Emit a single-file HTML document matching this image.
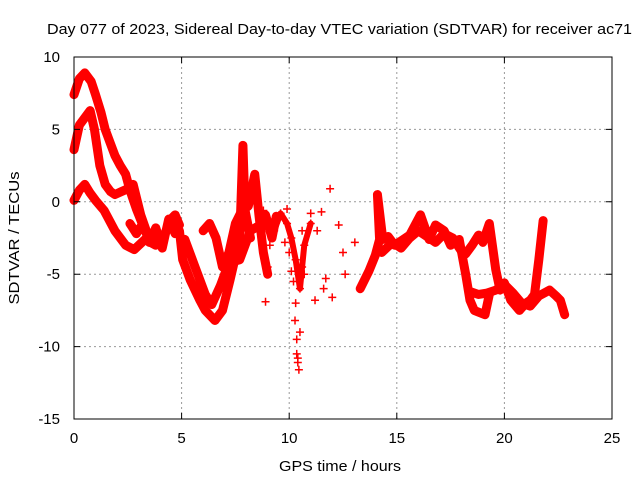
<!DOCTYPE html>
<html><head><meta charset="utf-8"><style>
body{margin:0;background:#fff;}
svg{display:block;font-family:"Liberation Sans",sans-serif;}
</style></head><body>
<svg id="chart" width="640" height="480">
<rect width="640" height="480" fill="#fff"/>
<text x="47" y="34" font-size="15" textLength="585" lengthAdjust="spacingAndGlyphs">Day 077 of 2023, Sidereal Day-to-day VTEC variation (SDTVAR) for receiver ac71</text>
<text x="279" y="471" font-size="15" textLength="122" lengthAdjust="spacingAndGlyphs">GPS time / hours</text>
<text x="0" y="0" font-size="15" text-anchor="middle" textLength="133" lengthAdjust="spacingAndGlyphs" transform="translate(19,238) rotate(-90)">SDTVAR / TECUs</text>
<g id="grid"></g><g id="marks"></g><g id="axes"></g>
</svg>
<script>
const xTicks=[0,5,10,15,20,25];
const yTicks=[10,5,0,-5,-10,-15];
const trackAh=[0,0.25,0.5,0.8,1.0,1.25,1.45,1.7,1.9,2.15,2.4,2.6,2.9,3.3,3.6];
const trackAv=[7.4,8.5,8.9,8.3,7.4,6.2,5,4,3.2,2.5,1.9,0.8,-0.5,-2,-2.6];
const trackBh=[0,0.25,0.5,0.75,0.95,1.2,1.45,1.7,1.9,2.2,2.5,2.75,3.1,3.5,3.9];
const trackBv=[3.6,5.3,5.8,6.3,5,2.5,1.2,0.7,0.5,0.7,0.9,1.2,-0.9,-2.6,-2.2];
const trackCh=[0,0.25,0.5,0.75,1.0,1.4,1.9,2.4,2.8,3.3,3.8,4.2,4.5,4.7,4.9];
const trackCv=[0.1,0.8,1.2,0.6,0.1,-0.6,-2,-3,-3.3,-2.6,-3,-2.3,-1.2,-0.9,-1.6];
const trackKh=[2.6,2.9,3.2,3.5,3.8,4.1,4.4,4.7];
const trackKv=[-1.5,-2.2,-1.5,-2.8,-1.8,-3.2,-1.2,-2.2];
const trackDh=[4.9,5.05,5.4,5.85,6.1,6.55,6.9,7.25,7.5,7.7,7.85,7.95,8.2];
const trackDv=[-2,-4,-5.4,-6.8,-7.5,-8.2,-7.5,-5.4,-3.8,-2.6,3.9,-0.6,-2.5];
const trackEh=[5.15,5.6,6.1,6.4,6.8,7.2,7.7,8.2,8.65,8.9,9.2,9.4];
const trackEv=[-2.6,-4.4,-6.4,-7.1,-5.8,-4.2,-4,-2,-1.6,-0.9,-2.5,-1];
const trackFh=[6.0,6.3,6.6,6.9,7.2,7.5,7.8,8.1,8.4,8.6,8.8,9.0];
const trackFv=[-2,-1.5,-2.5,-4.5,-3.5,-1.5,-0.6,-0.3,1.9,-1,-3.5,-5];
const trackGh=[9.3,9.6,9.9,10.1,10.3,10.5,10.7,11.0];
const trackGv=[-2,-0.8,-1.5,-2.5,-4,-6,-3,-1.5];
const trackHh=[13.3,13.7,14.0,14.2,14.1,14.35,14.6,14.9,15.3,15.6,15.85,16.1,16.5,16.8,17.2,17.5,17.9,18.2,18.4,18.6,19.1,19.3];
const trackHv=[-6,-4.8,-3.7,-2.6,0.5,-2.6,-2.4,-3,-2.6,-2.3,-1.6,-0.9,-2.6,-1.6,-2,-3,-2.6,-5,-6.8,-7.5,-7.8,-6.4];
const trackIh=[14.3,14.8,15.2,15.6,16.0,16.4,16.8,17.2,17.6,18.0,18.2,18.5,18.8,19.0,19.3,19.6,19.8,20.0,20.3,20.7,21.0,21.2,21.4,21.6,21.8];
const trackIv=[-3.5,-2.8,-3.2,-2.5,-2,-2.4,-2.8,-2.2,-2.5,-3.4,-3.6,-3,-2.3,-2.8,-1.5,-4.7,-6.1,-5.6,-6.8,-7.5,-7,-6.8,-6.4,-4,-1.3];
const trackJh=[18.4,18.8,19.2,19.6,20.0,20.4,20.8,21.2,21.6,22.1,22.4,22.6,22.8];
const trackJv=[-6.2,-6.4,-6.3,-6.1,-5.7,-6.3,-7,-7.2,-6.5,-6.1,-6.5,-6.8,-7.8];
const isoH=[11.9,11.5,11.0,12.3,13.05,12.6,11.7,12.0,11.2,8.9,10.27,10.5,10.4,10.45,9.43,10.35,10.6,10.2,11.3,9.0,9.9,10.0,10.1,9.8,10.6,10.7,11.6,12.5,8.8,9.1,10.3,10.35,10.4];
const isoV=[0.9,-0.7,-0.8,-1.6,-2.8,-5,-5.3,-6.6,-6.8,-6.9,-8.2,-9,-11.1,-11.6,-1,-10.5,-4.5,-5.5,-2,-4.5,-0.5,-3.5,-4.8,-2.8,-2,-5,-6,-3.5,-0.6,-3,-7,-9.5,-10.8];

const X0=74,X1=612,Y0=57,Y1=419;
function xs(h){return X0+(h-0)/25*(X1-X0);}
function ys(v){return Y0+(10-v)/25*(Y1-Y0);}
const NS="http://www.w3.org/2000/svg";
function mk(t,a,p){const e=document.createElementNS(NS,t);for(const k in a)e.setAttribute(k,a[k]);p.appendChild(e);return e;}
const grid=document.getElementById('grid'),axes=document.getElementById('axes'),marks=document.getElementById('marks');
xTicks.forEach(t=>{const x=xs(t);
 if(t>0&&t<25){const g=mk('line',{x1:x,x2:x,y1:Y0,y2:Y1,stroke:'#999','stroke-dasharray':'2,3'},grid);
 
 }
 const tk=mk('path',{d:`M${x},${Y1}v-6M${x},${Y0}v6`,stroke:'#000'},axes);
 
 
 const l=mk('text',{x:x,y:Y1+24,'font-size':15,'text-anchor':'middle'},axes);l.textContent=t;
 
 });
yTicks.forEach(t=>{const y=ys(t);
 if(t<10&&t>-15){const g=mk('line',{x1:X0,x2:X1,y1:y,y2:y,stroke:'#999','stroke-dasharray':'2,3'},grid);
 
 }
 const tk=mk('path',{d:`M${X0},${y}h6M${X1},${y}h-6`,stroke:'#000'},axes);
 
 
 const l=mk('text',{x:X0-14,y:y+5,'font-size':15,'text-anchor':'end'},axes);l.textContent=t;
 
 });
const frame=mk('rect',{x:X0,y:Y0,width:X1-X0,height:Y1-Y0,fill:'none',stroke:'#000'},axes);


function plus(x,y){const p=mk('path',{d:`M${x-4},${y}h8M${x},${y-4}v8`,stroke:'#f00','stroke-width':1.5},marks);
 
 }
const tracks=[[trackAh,trackAv],[trackBh,trackBv],[trackCh,trackCv],[trackKh,trackKv],[trackDh,trackDv],[trackEh,trackEv],[trackFh,trackFv],[trackGh,trackGv],[trackHh,trackHv],[trackIh,trackIv],[trackJh,trackJv]];
tracks.forEach((tr,i)=>{const pts=tr[0].map((h,j)=>xs(h)+','+ys(tr[1][j])).join(' ');
 const pl=mk('polyline',{points:pts,fill:'none',stroke:'#f00','stroke-width':i==7?6:9,'stroke-linejoin':'round','stroke-linecap':'round'},marks);
 
 
 tr[0].forEach((h,j)=>plus(xs(h),ys(tr[1][j])));});
isoH.forEach((h,j)=>plus(xs(h),ys(isoV[j])));
</script>
</body></html>
